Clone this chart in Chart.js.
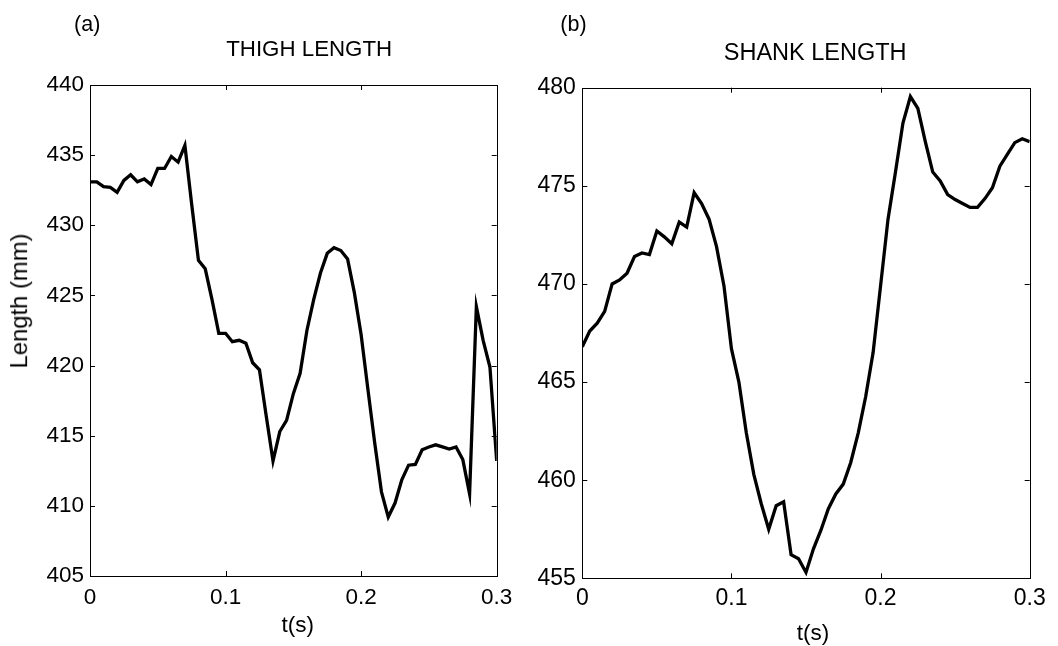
<!DOCTYPE html>
<html><head><meta charset="utf-8">
<script src="https://cdn.jsdelivr.net/npm/chart.js@4.4.1/dist/chart.umd.min.js"></script>
<style>
html,body{margin:0;padding:0;background:#fff;width:1058px;height:646px;overflow:hidden;}
.lbl{position:absolute;font-family:"Liberation Sans",Arial,Helvetica,sans-serif;color:#000;line-height:1;white-space:nowrap;}
canvas{position:absolute;top:0;}
</style></head><body>
<canvas id="c1" width="529" height="646" style="left:0px"></canvas>
<canvas id="c2" width="529" height="646" style="left:529px"></canvas>
<div class="lbl" style="left:87.2px;top:14.1px;font-size:21.5px;transform:translateX(-50%)">(a)</div>
<div class="lbl" style="left:573.5px;top:13.7px;font-size:21.5px;transform:translateX(-50%)">(b)</div>
<div class="lbl" style="left:309.2px;top:38.3px;font-size:22.3px;transform:translateX(-50%)">THIGH LENGTH</div>
<div class="lbl" style="left:815.2px;top:40.5px;font-size:23.5px;transform:translateX(-50%)">SHANK LENGTH</div>
<div class="lbl" style="left:297.8px;top:613.8px;font-size:22.5px;transform:translateX(-50%)">t(s)</div>
<div class="lbl" style="left:813px;top:621.8px;font-size:22.5px;transform:translateX(-50%)">t(s)</div>
<div class="lbl" style="left:18.6px;top:300.5px;font-size:23.8px;transform:translate(-50%,-50%) rotate(-90deg)">Length (mm)</div>
<script>
// ---- data ----
const timeS = [0,0.005,0.01,0.015,0.02,0.025,0.03,0.035,0.04,0.045,0.05,0.055,0.06,0.065,0.07,0.075,0.08,0.085,0.09,0.095,
  0.1,0.105,0.11,0.115,0.12,0.125,0.13,0.135,0.14,0.145,0.15,0.155,0.16,0.165,0.17,0.175,0.18,0.185,0.19,0.195,
  0.2,0.205,0.21,0.215,0.22,0.225,0.23,0.235,0.24,0.245,0.25,0.255,0.26,0.265,0.27,0.275,0.28,0.285,0.29,0.295,0.3];
const thighLength = [433.1,433.1,432.75,432.7,432.35,433.2,433.6,433.1,433.3,432.9,434.05,434.05,434.9,434.5,435.7,
  431.5,427.5,426.9,424.7,422.3,422.3,421.7,421.8,421.6,420.2,419.7,416.4,413.2,
  415.3,416.1,418.0,419.45,422.5,424.7,426.6,428.0,428.4,428.2,427.6,425.2,
  422.2,418.3,414.5,411.0,409.2,410.2,411.85,412.9,412.95,414.0,414.2,414.35,414.2,414.05,414.2,413.3,410.85,424.2,421.8,419.9,413.2];
const shankLength = [466.8,467.6,468.0,468.6,470.0,470.2,470.55,471.4,471.58,471.5,472.7,472.4,472.05,473.15,472.9,474.65,474.1,473.3,471.9,469.9,
  466.7,465.0,462.4,460.3,458.8,457.5,458.7,458.9,456.2,456.0,455.3,456.5,457.45,458.55,459.3,459.8,460.9,462.4,464.25,466.5,
  469.9,473.3,475.7,478.2,479.55,478.95,477.25,475.7,475.25,474.55,474.3,474.1,473.9,473.9,474.35,474.9,476.0,476.6,477.2,477.4,477.25];
const xTicks = [0, 0.1, 0.2, 0.3];
const thighYTicks = [405, 410, 415, 420, 425, 430, 435, 440];
const shankYTicks = [455, 460, 465, 470, 475, 480];

Chart.defaults.font.family = '"Liberation Sans", Arial, Helvetica, sans-serif';
Chart.defaults.color = '#000';

const frameTicks = {
  id: 'frameTicks',
  afterDatasetsDraw(chart) {
    const {ctx, chartArea: a, scales: {x, y}} = chart;
    const L = 5;
    ctx.save();
    ctx.strokeStyle = '#000';
    ctx.lineWidth = 1;
    ctx.beginPath();
    x.ticks.forEach(t => {
      const px = Math.round(x.getPixelForValue(t.value)) + 0.5;
      if (px <= a.left + 2 || px >= a.right - 2) return;
      ctx.moveTo(px, a.bottom); ctx.lineTo(px, a.bottom - L);
      ctx.moveTo(px, a.top); ctx.lineTo(px, a.top + L);
    });
    y.ticks.forEach(t => {
      const py = Math.round(y.getPixelForValue(t.value)) + 0.5;
      if (py <= a.top + 2 || py >= a.bottom - 2) return;
      ctx.moveTo(a.left, py); ctx.lineTo(a.left + L, py);
      ctx.moveTo(a.right, py); ctx.lineTo(a.right - L, py);
    });
    ctx.stroke();
    const l = Math.round(a.left) + 0.5, tp = Math.round(a.top) + 0.5;
    ctx.strokeRect(l, tp, Math.round(a.right) - Math.round(a.left), Math.round(a.bottom) - Math.round(a.top));
    ctx.restore();
  }
};

function makePanel(id, values, yTicks, g) {
  const pts = timeS.map((t, i) => ({x: t, y: values[i]}));
  return new Chart(document.getElementById(id), {
    type: 'line',
    data: { datasets: [{ data: pts, borderColor: '#000', borderWidth: 3.3, pointRadius: 0, tension: 0, fill: false }] },
    options: {
      responsive: false, animation: false, devicePixelRatio: 1,
      layout: { padding: { left: 0, top: g.top, right: 529 - g.right, bottom: 0 } },
      plugins: { legend: { display: false }, tooltip: { enabled: false } },
      scales: {
        x: {
          type: 'linear', min: xTicks[0], max: xTicks[xTicks.length - 1],
          afterFit: s => { s.height = 646 - g.bottom; },
          afterBuildTicks: s => { s.ticks = xTicks.map(v => ({value: v})); },
          grid: { display: false, drawTicks: false, tickLength: 0 }, border: { display: false },
          ticks: { font: { size: g.tickFont }, padding: g.xPad, maxRotation: 0, autoSkip: false,
            callback: v => String(Number(v.toFixed(1))) }
        },
        y: {
          type: 'linear', min: yTicks[0], max: yTicks[yTicks.length - 1],
          afterFit: s => { s.width = g.left; },
          afterBuildTicks: s => { s.ticks = yTicks.map(v => ({value: v})); },
          grid: { display: false, drawTicks: false, tickLength: 0 }, border: { display: false },
          ticks: { font: { size: g.tickFont }, padding: g.yPad, autoSkip: false,
            callback: v => String(v) }
        }
      }
    },
    plugins: [frameTicks]
  });
}

makePanel('c1', thighLength, thighYTicks, { left: 90, right: 496.7, top: 85, bottom: 576, tickFont: 22.5, xPad: 8.6, yPad: 6 });
makePanel('c2', shankLength, shankYTicks, { left: 53.3, right: 500.7, top: 87.7, bottom: 578.3, tickFont: 23, xPad: 6.2, yPad: 6.5 });
</script>
</body></html>
